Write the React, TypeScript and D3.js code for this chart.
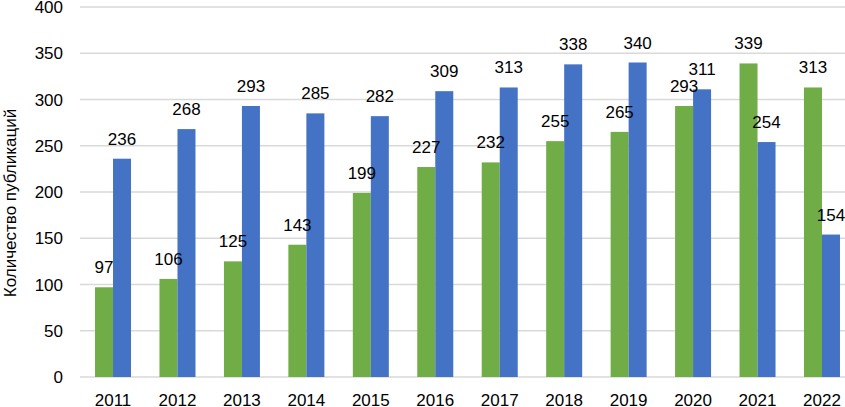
import React from "react";
import * as d3 from "d3";

const years = ["2011","2012","2013","2014","2015","2016","2017","2018","2019","2020","2021","2022"];
const greenValues = [97,106,125,143,199,227,232,255,265,293,339,313];
const blueValues = [236,268,293,285,282,309,313,338,340,311,254,154];
const yTicks = [0,50,100,150,200,250,300,350,400];
const yTitle = "Количество публикаций";

const W = 845, H = 407;
const FONT = "'Liberation Sans', Arial, sans-serif";

export default function App() {
  const x = d3.scaleBand<string>().domain(years).range([80.8, 854.2]).padding(0);
  const y = d3.scaleLinear().domain([0, 400]).range([377, 7]);
  const bw = 18;
  const series = [
    { values: greenValues, color: "#70AD47", off: -bw },
    { values: blueValues, color: "#4472C4", off: 0 },
  ];
  return (
    <svg width={W} height={H} style={{ position: "absolute", left: 0, top: 0 }} fontFamily={FONT}>
      <rect width={W} height={H} fill="#fff" />
      {yTicks.map((t) => (
        <g key={t}>
          <line x1={80} x2={W} y1={y(t)} y2={y(t)} stroke="#D9D9D9" strokeWidth={1.3} />
          <text x={63} y={y(t)} dy="0.36em" textAnchor="end" fontSize={17} fill="#000">{t}</text>
        </g>
      ))}
      {series.map((s, si) => (
        <g key={si}>
          {s.values.map((v, i) => {
            const cx = x(years[i])! + x.bandwidth() / 2;
            return (
              <rect key={i} x={cx + s.off} width={bw} y={y(v)} height={y(0) - y(v)} fill={s.color} />
            );
          })}
        </g>
      ))}
      {series.map((s, si) => (
        <g key={"l" + si}>
          {s.values.map((v, i) => {
            const cx = x(years[i])! + x.bandwidth() / 2 + s.off + bw / 2;
            return (
              <text key={i} x={cx} y={y(v) - 14} textAnchor="middle" fontSize={17} fill="#000">{v}</text>
            );
          })}
        </g>
      ))}
      {years.map((yr) => (
        <text key={yr} x={x(yr)! + x.bandwidth() / 2} y={406} textAnchor="middle" fontSize={17} fill="#000">{yr}</text>
      ))}
      <text transform={`translate(16,203) rotate(-90)`} textAnchor="middle" fontSize={17} fill="#000">{yTitle}</text>
    </svg>
  );
}
